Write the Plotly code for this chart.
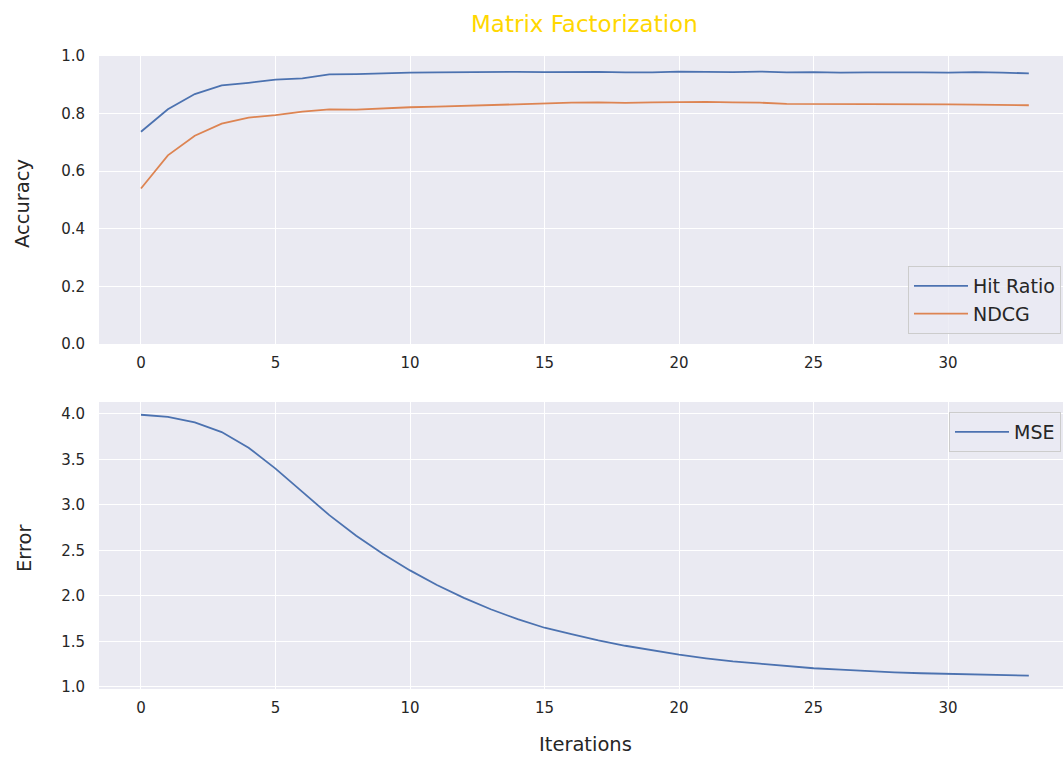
import plotly.graph_objects as go

iterations = list(range(34))
hit_ratio = [0.737, 0.815, 0.868, 0.898, 0.907, 0.918, 0.922, 0.936, 0.937, 0.940,
             0.942, 0.943, 0.944, 0.944, 0.945, 0.944, 0.945, 0.945, 0.943, 0.943,
             0.946, 0.945, 0.944, 0.946, 0.943, 0.944, 0.942, 0.943, 0.944, 0.943,
             0.942, 0.944, 0.942, 0.940]
ndcg = [0.540, 0.655, 0.723, 0.765, 0.786, 0.795, 0.807, 0.815, 0.814, 0.819,
        0.822, 0.824, 0.827, 0.829, 0.833, 0.834, 0.838, 0.839, 0.837, 0.839,
        0.840, 0.841, 0.839, 0.838, 0.834, 0.834, 0.834, 0.834, 0.834, 0.834,
        0.832, 0.831, 0.829, 0.829]
mse = [3.99, 3.967, 3.905, 3.80, 3.628, 3.398, 3.142, 2.887, 2.660, 2.46,
       2.28, 2.12, 1.978, 1.853, 1.744, 1.650, 1.58, 1.51, 1.452, 1.40,
       1.354, 1.314, 1.28, 1.255, 1.227, 1.205, 1.19, 1.172, 1.16, 1.15,
       1.143, 1.136, 1.13, 1.124]

title_text = "Matrix Factorization"
x_ticks = [0, 5, 10, 15, 20, 25, 30]
acc_ticks = [0.0, 0.2, 0.4, 0.6, 0.8, 1.0]
err_ticks = [1.0, 1.5, 2.0, 2.5, 3.0, 3.5, 4.0]

W, H = 1063, 758
BLUE = "#4C72B0"
ORANGE = "#DD8452"
TXT = "#262626"
FONT = "DejaVu Sans"

fig = go.Figure()
fig.add_trace(go.Scatter(x=iterations, y=hit_ratio, mode="lines", name="Hit Ratio",
                         line=dict(color=BLUE, width=1.8), xaxis="x", yaxis="y", legend="legend"))
fig.add_trace(go.Scatter(x=iterations, y=ndcg, mode="lines", name="NDCG",
                         line=dict(color=ORANGE, width=1.8), xaxis="x", yaxis="y", legend="legend"))
fig.add_trace(go.Scatter(x=iterations, y=mse, mode="lines", name="MSE",
                         line=dict(color=BLUE, width=1.8), xaxis="x2", yaxis="y2", legend="legend2"))

def py(p):
    return (H - p) / H

xdom = [99 / W, 1.0]
axis_common = dict(showgrid=True, gridcolor="white", gridwidth=1.4, zeroline=False,
                   showline=False, ticks="", automargin=False,
                   tickfont=dict(family=FONT, size=15, color=TXT))

legend_common = dict(bgcolor="rgba(234,234,242,0.8)", bordercolor="#CCCCCC", borderwidth=1,
                     font=dict(family=FONT, size=19, color=TXT))

fig.update_layout(
    width=W, height=H,
    margin=dict(l=0, r=0, t=0, b=0, pad=0, autoexpand=False),
    paper_bgcolor="white", plot_bgcolor="#EAEAF2",
    font=dict(family=FONT, color=TXT),
    xaxis=dict(domain=xdom, range=[-1.56, 34.27], tickvals=x_ticks, anchor="y",
               ticklabelstandoff=8, **axis_common),
    yaxis=dict(domain=[py(344), py(56)], range=[0, 1.0], tickvals=acc_ticks,
               tickformat=".1f", anchor="x", ticklabelstandoff=13, **axis_common),
    xaxis2=dict(domain=xdom, range=[-1.56, 34.27], tickvals=x_ticks, anchor="y2",
                ticklabelstandoff=8, **axis_common),
    yaxis2=dict(domain=[py(689), py(402)], range=[0.977, 4.13], tickvals=err_ticks,
                tickformat=".1f", anchor="x2", ticklabelstandoff=13, **axis_common),
    legend=dict(x=1061 / W, y=py(334), xanchor="right", yanchor="bottom",
                itemwidth=54, **legend_common),
    legend2=dict(x=1061 / W, y=py(412), xanchor="right", yanchor="top",
                 itemwidth=54, **legend_common),
    showlegend=True,
    annotations=[
        dict(text=title_text, x=584 / W, y=py(24), xref="paper", yref="paper",
             showarrow=False, font=dict(family=FONT, size=23, color="#FFD700"),
             xanchor="center", yanchor="middle"),
        dict(text="Accuracy", x=22 / W, y=py(204), xref="paper", yref="paper",
             showarrow=False, textangle=-90, font=dict(family=FONT, size=19.5, color=TXT),
             xanchor="center", yanchor="middle"),
        dict(text="Error", x=24 / W, y=py(548), xref="paper", yref="paper",
             showarrow=False, textangle=-90, font=dict(family=FONT, size=19.5, color=TXT),
             xanchor="center", yanchor="middle"),
        dict(text="Iterations", x=585 / W, y=py(757), xref="paper", yref="paper",
             showarrow=False, font=dict(family=FONT, size=19.5, color=TXT),
             xanchor="center", yanchor="bottom", borderpad=0),
    ],
)

fig.write_html("out.html", config={"displayModeBar": False},
               post_script="document.body.style.margin='0';document.body.style.overflow='hidden';")
